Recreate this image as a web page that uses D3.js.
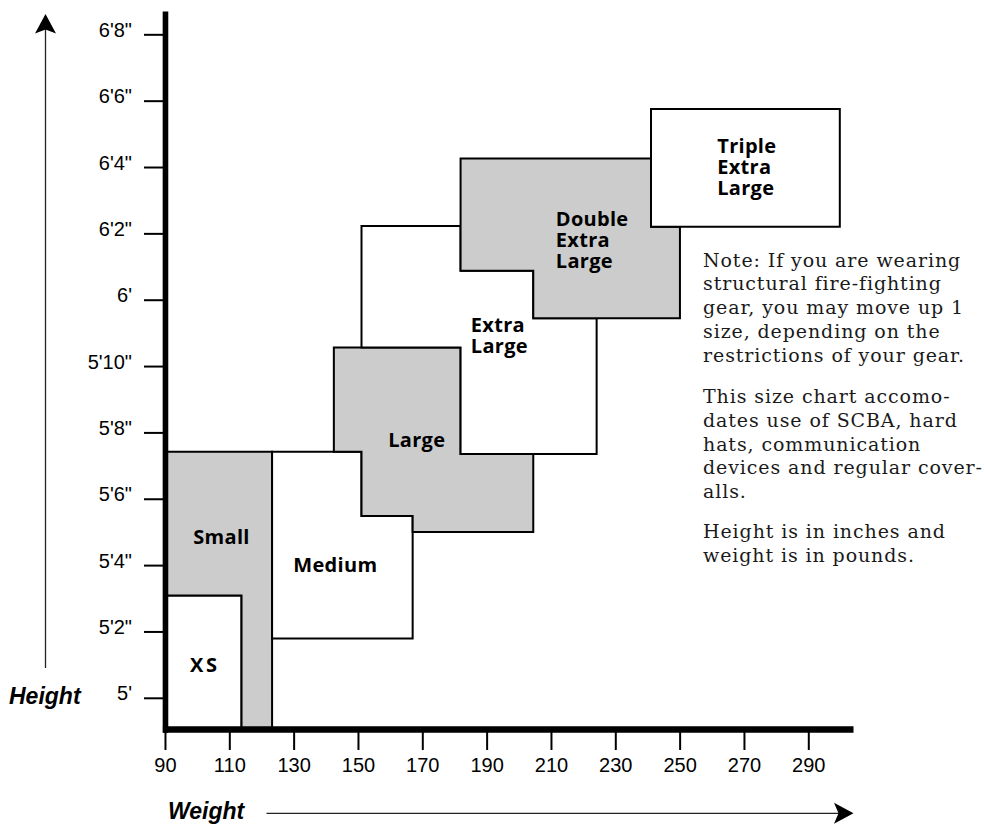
<!DOCTYPE html>
<html>
<head>
<meta charset="utf-8">
<script src="https://cdn.jsdelivr.net/npm/d3@7/dist/d3.min.js"></script>
<style>
  body { margin: 0; background: #ffffff; }
  svg { display: block; }
</style>
</head>
<body>
<svg id="chart" width="984" height="825"></svg>
<script>
// ---------------- data ----------------
const weightTicks = [90, 110, 130, 150, 170, 190, 210, 230, 250, 270, 290];
const heightTicks = [60, 62, 64, 66, 68, 70, 72, 74, 76, 78, 80];
const heightLabels = ["5'", "5'2\"", "5'4\"", "5'6\"", "5'8\"", "5'10\"", "6'", "6'2\"", "6'4\"", "6'6\"", "6'8\""];

const weightRange = [89.2, 303.9];   // pounds
const heightRange = [58.96, 80.7];   // inches
const floorHeight = 59.06;

const sizeNames = ["XS", "Small", "Medium", "Large", "Extra Large", "Double Extra Large", "Triple Extra Large"];
const sizeLabelLines = [["XS"], ["Small"], ["Medium"], ["Large"], ["Extra", "Large"], ["Double", "Extra", "Large"], ["Triple", "Extra", "Large"]];
// outlines as [weight (lb), height (in)] vertices
const xsOutline = [[90, 63.08], [113.8, 63.08], [113.8, 59.06], [90, 59.06]];
const smallOutline = [[90, 67.42], [123.3, 67.42], [123.3, 59.06], [113.8, 59.06], [113.8, 63.08], [90, 63.08]];
const mediumOutline = [[123.3, 67.42], [151.1, 67.42], [151.1, 65.48], [167.0, 65.48], [167.0, 61.79], [123.3, 61.79]];
const largeOutline = [[142.5, 70.56], [181.9, 70.56], [181.9, 67.35], [204.5, 67.35], [204.5, 65.0], [167.0, 65.0], [167.0, 65.48], [151.1, 65.48], [151.1, 67.42], [142.5, 67.42]];
const xlOutline = [[151.1, 74.22], [181.9, 74.22], [181.9, 72.87], [204.5, 72.87], [204.5, 71.44], [224.2, 71.44], [224.2, 67.35], [181.9, 67.35], [181.9, 70.56], [151.1, 70.56]];
const xxlOutline = [[181.9, 76.26], [241.1, 76.26], [241.1, 74.2], [250.1, 74.2], [250.1, 71.44], [204.5, 71.44], [204.5, 72.87], [181.9, 72.87]];
const xxxlOutline = [[241.1, 77.75], [299.8, 77.75], [299.8, 74.2], [241.1, 74.2]];
const sizeOutlines = [xsOutline, smallOutline, mediumOutline, largeOutline, xlOutline, xxlOutline, xxxlOutline];
// label anchor (left edge, first baseline) in [weight, height]
const sizeLabelAt = [[97.8, 60.78], [98.8, 64.65], [129.9, 63.78], [159.4, 67.55], [185.1, 71.03], [211.5, 74.22], [261.7, 76.41]];

const noteParagraphs = [
  ["Note: If you are wearing", "structural fire-fighting", "gear, you may move up 1", "size, depending on the", "restrictions of your gear."],
  ["This size chart accomo-", "dates use of SCBA, hard", "hats, communication", "devices and regular cover-", "alls."],
  ["Height is in inches and", "weight is in pounds."]
];

// ---------------- layout ----------------
const svg = d3.select("#chart");
const x = d3.scaleLinear().domain(weightRange).range([162.4, 853]);
const y = d3.scaleLinear().domain(heightRange).range([732.3, 11.1]);

const SANS = "'Liberation Sans', Arial, Helvetica, sans-serif";
const LABEL = "'Open Sans', 'Noto Sans', sans-serif";
const SERIF = "'DejaVu Serif', 'Liberation Serif', serif";

// size regions
const line = d3.line().x(d => x(d[0])).y(d => y(d[1])).curve(d3.curveLinearClosed);
svg.append("g").selectAll("path")
  .data(sizeOutlines)
  .join("path")
  .attr("d", d => line(d))
  .attr("fill", (d, i) => i % 2 === 1 ? "#cccccc" : "#ffffff")
  .attr("stroke", "#000")
  .attr("stroke-width", 2)
  .attr("stroke-linejoin", "miter");

// size labels
const labels = svg.append("g").selectAll("text")
  .data(sizeNames)
  .join("text")
  .attr("x", (d, i) => x(sizeLabelAt[i][0]))
  .attr("y", (d, i) => y(sizeLabelAt[i][1]))
  .attr("font-family", LABEL)
  .attr("font-weight", 700)
  .attr("font-size", 20)
  .attr("fill", "#000")
  .attr("letter-spacing", (d, i) => i === 0 ? 2.5 : 0.3);
labels.each(function(d, i) {
  const t = d3.select(this);
  sizeLabelLines[i].forEach((ln, j) => {
    t.append("tspan")
      .attr("x", x(sizeLabelAt[i][0]))
      .attr("dy", j === 0 ? 0 : 21)
      .text(ln);
  });
});

// y axis
const yAxis = d3.axisLeft(y)
  .tickValues(heightTicks)
  .tickFormat((d, i) => heightLabels[i])
  .tickSize(21)
  .tickSizeOuter(0)
  .tickPadding(12);
const gy = svg.append("g").attr("transform", `translate(${x(90)},0)`).call(yAxis);
gy.select(".domain").attr("stroke", "#000").attr("stroke-width", 5.6);
gy.selectAll(".tick line").attr("stroke", "#000").attr("stroke-width", 2);
gy.selectAll(".tick text")
  .attr("dy", "0.1em")
  .attr("font-family", SANS)
  .attr("font-size", 20)
  .attr("fill", "#000");

// x axis
const xAxis = d3.axisBottom(x)
  .tickValues(weightTicks)
  .tickFormat(d3.format("d"))
  .tickSize(21)
  .tickSizeOuter(0);
const gx = svg.append("g").attr("transform", `translate(0,${y(floorHeight)})`).call(xAxis);
gx.select(".domain").attr("stroke", "#000").attr("stroke-width", 6.4);
gx.selectAll(".tick line").attr("stroke", "#000").attr("stroke-width", 2);
gx.selectAll(".tick text")
  .attr("y", 43.5)
  .attr("dy", 0)
  .attr("font-family", SANS)
  .attr("font-size", 20)
  .attr("fill", "#000");

// axis titles
svg.append("text")
  .attr("x", 9).attr("y", 703.5)
  .attr("font-family", SANS).attr("font-weight", 700).attr("font-style", "italic")
  .attr("font-size", 23).attr("fill", "#000")
  .text("Height");
svg.append("text")
  .attr("x", 168).attr("y", 818.5)
  .attr("font-family", SANS).attr("font-weight", 700).attr("font-style", "italic")
  .attr("font-size", 23).attr("fill", "#000")
  .text("Weight");

// arrows
const arrows = svg.append("g");
arrows.append("line").attr("x1", 45.5).attr("y1", 668).attr("x2", 45.5).attr("y2", 28)
  .attr("stroke", "#222").attr("stroke-width", 1.3);
arrows.append("path")
  .attr("d", "M45.5,14 L56,33.5 L45.5,29.5 L35,33.5 Z")
  .attr("fill", "#000");
arrows.append("line").attr("x1", 266.5).attr("y1", 813.3).attr("x2", 840).attr("y2", 813.3)
  .attr("stroke", "#222").attr("stroke-width", 1.3);
arrows.append("path")
  .attr("d", "M853.5,813.3 L834,802.8 L838.5,813.3 L834,823.8 Z")
  .attr("fill", "#000");

// notes
const paraStart = [266.7, 403.3, 538.3];
const note = svg.append("g")
  .attr("font-family", SERIF)
  .attr("font-size", 19)
  .attr("letter-spacing", 0.9)
  .attr("fill", "#1a1a1a");
noteParagraphs.forEach((para, p) => {
  para.forEach((ln, j) => {
    note.append("text")
      .attr("x", 703)
      .attr("y", paraStart[p] + j * 23.7)
      .text(ln);
  });
});
</script>
</body>
</html>
